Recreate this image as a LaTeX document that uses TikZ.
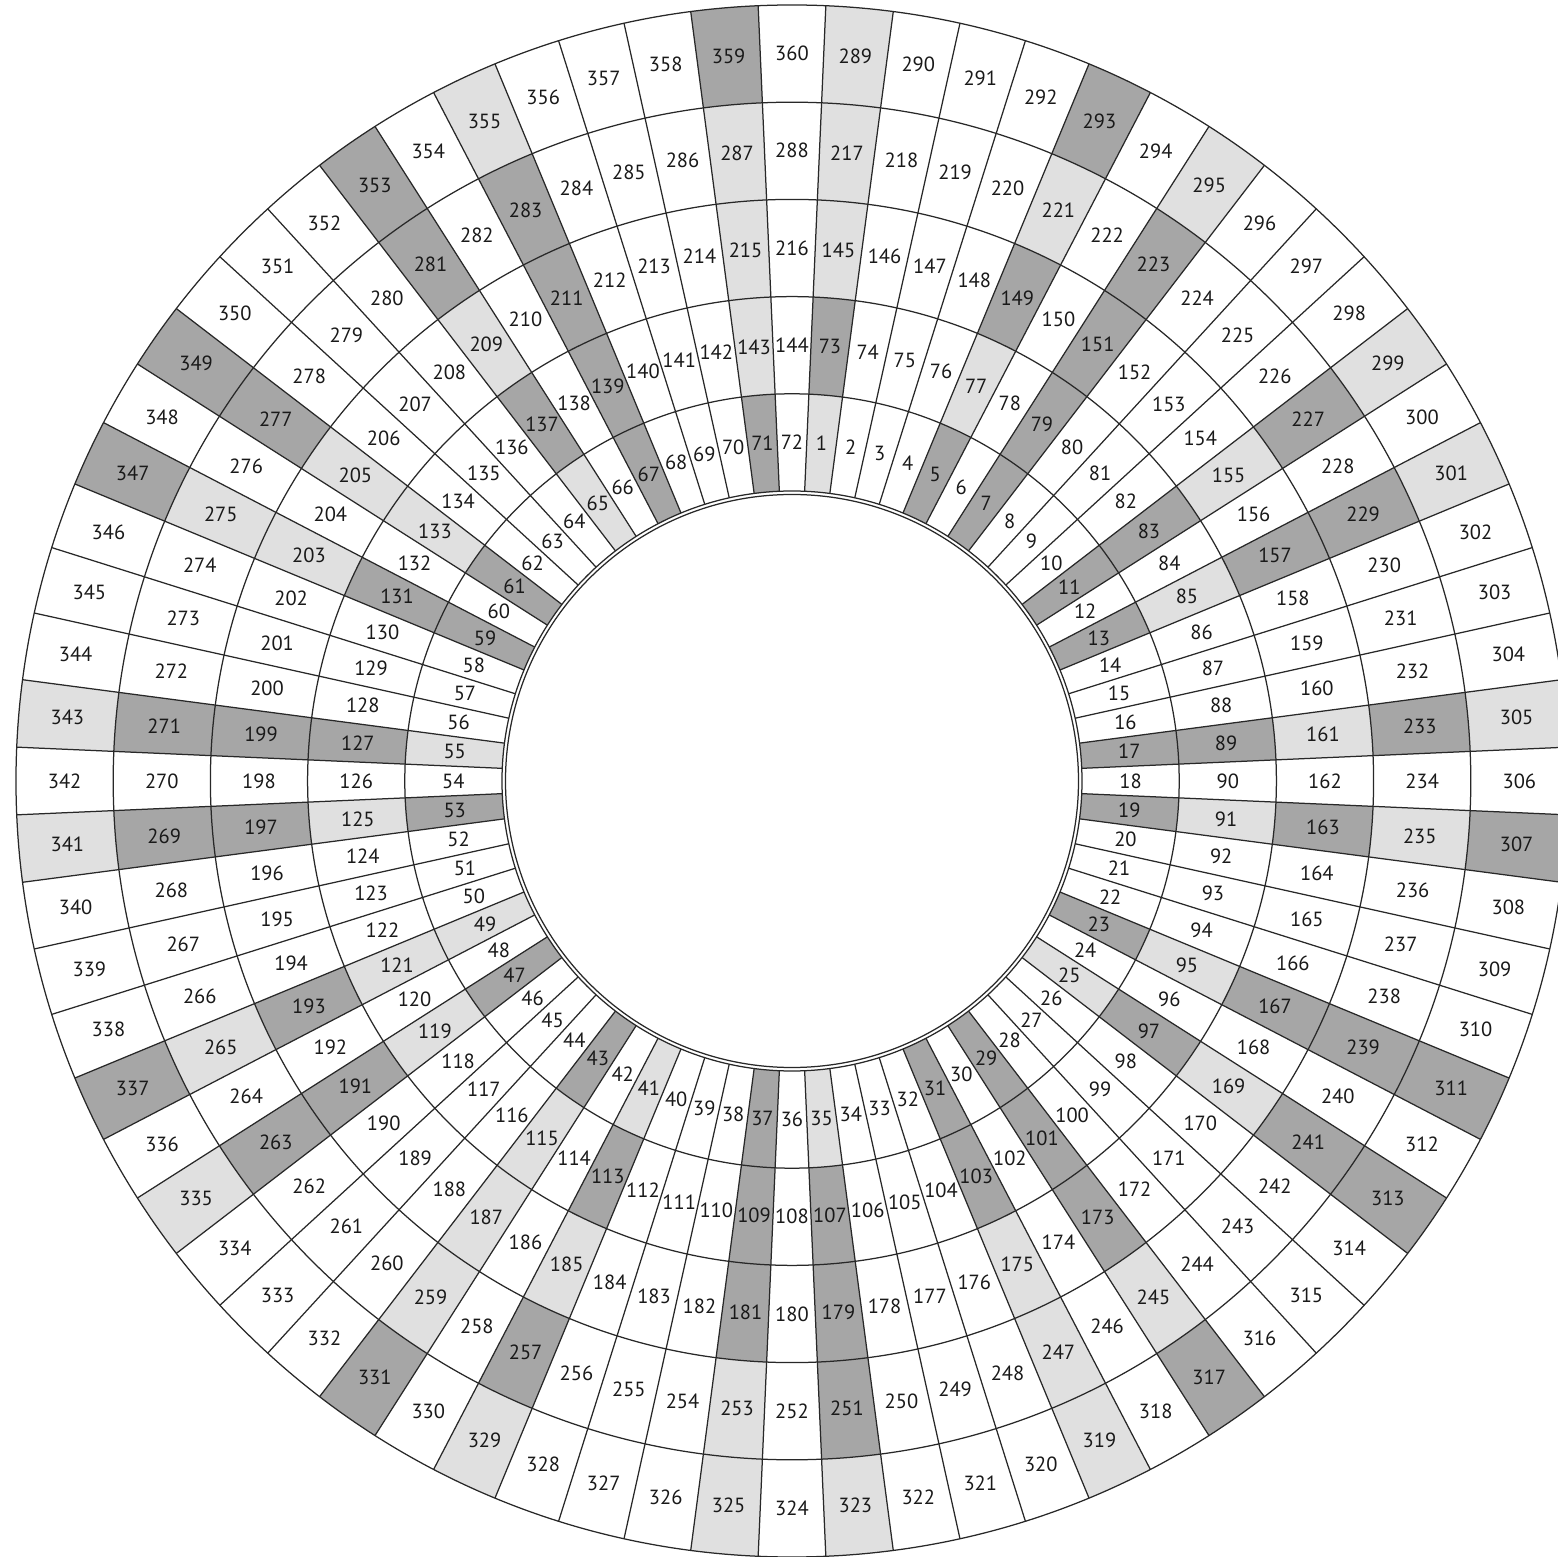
\documentclass[tikz,border=0pt]{standalone}
\usepackage{fontspec}
\setmainfont{PT Sans}
\definecolor{darkcell}{RGB}{166,166,166}
\definecolor{lightcell}{RGB}{224,224,224}
\definecolor{linec}{RGB}{40,40,40}
\begin{document}
\begin{tikzpicture}[x=1pt,y=1pt,
  gridline/.style={draw=linec,line width=1.25pt},
  lbl/.style={font=\fontsize{20.5}{24}\selectfont,text=black!90,inner sep=0pt}]
\useasboundingbox (-792,-776) rectangle (766,781);
\def\cellfill#1#2{%
  \pgfmathtruncatemacro{\rI}{(#1-1)/72}%
  \pgfmathtruncatemacro{\kK}{#1-72*\rI}%
  \pgfmathsetmacro{\rA}{290+97.2*\rI}%
  \pgfmathsetmacro{\rB}{\rA+97.2}%
  \pgfmathsetmacro{\aA}{92.5-5*\kK}%
  \pgfmathsetmacro{\aB}{\aA-5}%
  \fill[#2] (\aA:\rA) arc[start angle=\aA, end angle=\aB, radius=\rA] -- (\aB:\rB) arc[start angle=\aB, end angle=\aA, radius=\rB] -- cycle;}
\foreach \n in {5,7,11,13,17,19,23,29,31,37,43,47,53,59,61,67,71,73,79,83,89,97,101,103,107,109,113,127,131,137,139,149,151,157,163,167,173,179,181,191,193,197,199,211,223,227,229,233,239,241,251,257,263,269,271,277,281,283,293,307,311,313,317,331,337,347,349,353,359}{\cellfill{\n}{darkcell}}
\foreach \n in {1,25,35,41,49,55,65,77,85,91,95,115,119,121,125,133,143,145,155,161,169,175,185,187,203,205,209,215,217,221,235,245,247,253,259,265,275,287,289,295,299,301,305,319,323,325,329,335,341,343,355}{\cellfill{\n}{lightcell}}
% rings
\foreach \r in {286.5,290,387.2,484.4,581.6,678.8,776}{\draw[gridline] (0,0) circle[radius=\r];}
% spokes
\foreach \j in {0,...,71}{\draw[gridline] ({2.5+5*\j}:290) -- ({2.5+5*\j}:776);}
% labels
\foreach \n in {1,...,360}{
  \pgfmathtruncatemacro{\rI}{(\n-1)/72}
  \pgfmathtruncatemacro{\kK}{\n-72*\rI}
  \pgfmathsetmacro{\rM}{290+97.2*(\rI+0.5)}
  \pgfmathsetmacro{\aM}{90-5*\kK}
  \node[lbl] (c\n) at (\aM:\rM) {\n};
}
\end{tikzpicture}
\end{document}
